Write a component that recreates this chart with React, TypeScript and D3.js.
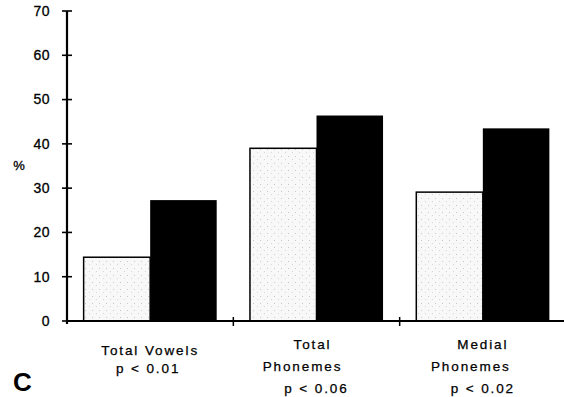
import React from "react";
import * as d3 from "d3";

const categories = ["Total Vowels", "Total Phonemes", "Medial Phonemes"];
const labelLines = [
  ["Total Vowels", "p < 0.01"],
  ["Total", "Phonemes", "p < 0.06"],
  ["Medial", "Phonemes", "p < 0.02"],
];
const seriesA = [14.4, 39.0, 29.1];
const seriesB = [27.3, 46.4, 43.5];
const yTicks = [0, 10, 20, 30, 40, 50, 60, 70];

const W = 564;
const H = 397;
const left = 67;
const right = 566;
const top = 11;
const bottom = 321;

export default function App() {
  const x = d3.scaleBand<string>().domain(categories).range([left, right]).padding(0);
  const inner = d3
    .scaleBand<string>()
    .domain(["a", "b"])
    .range([0, x.bandwidth()])
    .paddingInner(0)
    .paddingOuter(0.25);
  const y = d3.scaleLinear().domain([0, 70]).range([bottom, top]);
  const font = "'Liberation Sans', Arial, sans-serif";

  const lineY = [[350, 368], [344, 366, 388], [344, 366, 388]];
  const lineDx = [[0, -2], [-4, -14, 0], [0, -12, 0]];

  return (
    <svg
      width={W}
      height={H}
      style={{ position: "absolute", left: 0, top: 0, background: "#fff" }}
      fontFamily={font}
    >
      <defs>
        <pattern id="stipple" width="7" height="7" patternUnits="userSpaceOnUse">
          <rect width="7" height="7" fill="#f8f8f8" />
          <rect x="1" y="2" width="1" height="1" fill="#c8c8c8" />
          <rect x="5" y="5" width="1" height="1" fill="#d8d8d8" />
        </pattern>
      </defs>
      {categories.map((c, i) => {
        const x0 = x(c)!;
        return (
          <g key={c}>
            <rect
              x={x0 + inner("a")!}
              y={y(seriesA[i])}
              width={inner.bandwidth()}
              height={y(0) - y(seriesA[i])}
              fill="url(#stipple)"
              stroke="#000"
              strokeWidth={1.5}
            />
            <rect
              x={x0 + inner("b")!}
              y={y(seriesB[i])}
              width={inner.bandwidth()}
              height={y(0) - y(seriesB[i])}
              fill="#000"
            />
          </g>
        );
      })}
      {/* y axis */}
      <line x1={left} x2={left} y1={top} y2={bottom + 3} stroke="#000" strokeWidth={2.2} />
      {yTicks.map((t) => (
        <g key={t}>
          <line x1={left - 5} x2={left + 5} y1={y(t)} y2={y(t)} stroke="#000" strokeWidth={1.6} />
          <text
            x={50}
            y={y(t)}
            dy="0.35em"
            textAnchor="end"
            fontSize={14}
            fill="#000"
            stroke="#000"
            strokeWidth={0.3}
            letterSpacing={0.5}
          >
            {t}
          </text>
        </g>
      ))}
      <text x={19} y={165} dy="0.35em" textAnchor="middle" fontSize={13} fill="#000" stroke="#000" strokeWidth={0.3}>
        %
      </text>
      {/* x axis */}
      <line x1={left} x2={right} y1={bottom} y2={bottom} stroke="#000" strokeWidth={2} />
      {categories.slice(1).map((c) => (
        <line key={c} x1={x(c)!} x2={x(c)!} y1={bottom - 4} y2={bottom + 5} stroke="#000" strokeWidth={1.5} />
      ))}
      {categories.map((c, i) => {
        const cx = x(c)! + x.bandwidth() / 2;
        return labelLines[i].map((ln, j) => (
          <text
            key={c + j}
            x={cx + lineDx[i][j]}
            y={lineY[i][j]}
            dy="0.35em"
            textAnchor="middle"
            fontSize={13.5}
            fill="#000"
            stroke="#000"
            strokeWidth={0.25}
            letterSpacing={1.9}
          >
            {ln}
          </text>
        ));
      })}
      <text x={13} y={391} fontSize={26} fontWeight="bold" fill="#000">
        C
      </text>
    </svg>
  );
}
